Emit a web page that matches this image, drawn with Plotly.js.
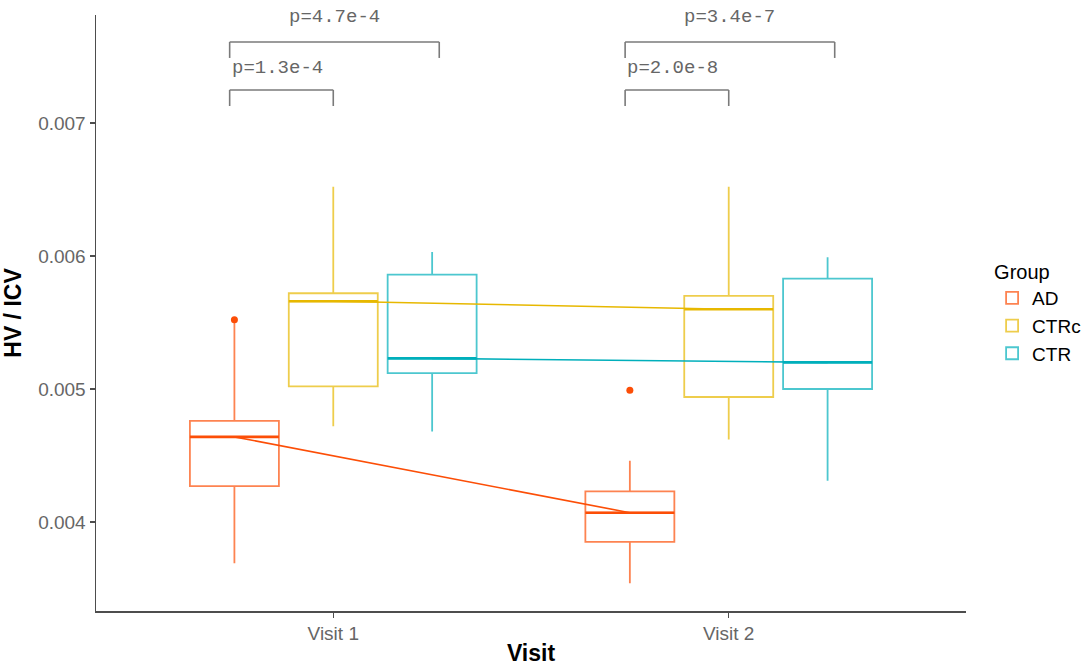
<!DOCTYPE html>
<html>
<head>
<meta charset="utf-8">
<script src="https://cdn.plot.ly/plotly-3.0.1.min.js"></script>
<style>html,body{margin:0;padding:0;background:#fff;}#chart{width:1090px;height:666px;}</style>
</head>
<body>
<div id="chart"></div>
<script>
// ---- data ----
const visits = ["Visit 1", "Visit 2"];
const groups = ["AD", "CTRc", "CTR"];
const colors = ["#FC4E07", "#E7B800", "#00AFBB"];

// per group: values at [Visit 1, Visit 2]
const lowerWhisker = {AD: [0.00369, 0.00354], CTRc: [0.00472, 0.00462], CTR: [0.00468, 0.00431]};
const q1Vals       = {AD: [0.00427, 0.00385], CTRc: [0.00502, 0.00494], CTR: [0.00512, 0.00500]};
const medianVals   = {AD: [0.00464, 0.00407], CTRc: [0.00566, 0.00560], CTR: [0.00523, 0.00520]};
const q3Vals       = {AD: [0.00476, 0.00423], CTRc: [0.00572, 0.00570], CTR: [0.00586, 0.00583]};
const upperWhisker = {AD: [0.00551, 0.00446], CTRc: [0.00652, 0.00652], CTR: [0.00603, 0.00599]};
// outliers: [visit index, value]
const outlierVisit = {AD: [0, 1], CTRc: [], CTR: []};
const outlierValue = {AD: [0.00552, 0.00499], CTRc: [], CTR: []};

// significance comparisons (per visit: AD vs CTRc, AD vs CTR)
const compVisit  = [0, 0, 1, 1];
const compTarget = ["CTRc", "CTR", "CTRc", "CTR"];
const compLabel  = ["p=1.3e-4", "p=4.7e-4", "p=2.0e-8", "p=3.4e-7"];
const compLevel  = [0, 1, 0, 1];

// ---- layout helpers ----
const dodge = 0.25;
const boxW = 0.225;
function xPos(vi, gi) { return (vi + 1) + (gi - 1) * dodge; }
function rgba(hex, a) {
  const r = parseInt(hex.slice(1,3),16), g = parseInt(hex.slice(3,5),16), b = parseInt(hex.slice(5,7),16);
  return `rgba(${r},${g},${b},${a})`;
}

const traces = [];
// connecting median lines
groups.forEach((g, gi) => {
  traces.push({
    type: "scatter", mode: "lines",
    x: visits.map((v, vi) => xPos(vi, gi)),
    y: medianVals[g],
    line: {color: colors[gi], width: 1.6},
    showlegend: false, hoverinfo: "skip"
  });
});
// boxes
groups.forEach((g, gi) => {
  traces.push({
    type: "box", name: g,
    x: visits.map((v, vi) => xPos(vi, gi)),
    q1: q1Vals[g], median: medianVals[g], q3: q3Vals[g],
    lowerfence: lowerWhisker[g], upperfence: upperWhisker[g],
    width: boxW, whiskerwidth: 0,
    line: {color: rgba(colors[gi], 0.7), width: 1.8},
    fillcolor: "rgba(255,255,255,0)",
    boxpoints: false
  });
});
// median emphasis
groups.forEach((g, gi) => {
  visits.forEach((v, vi) => {
    const xc = xPos(vi, gi);
    traces.push({
      type: "scatter", mode: "lines",
      x: [xc - boxW/2, xc + boxW/2],
      y: [medianVals[g][vi], medianVals[g][vi]],
      line: {color: colors[gi], width: 2.6},
      showlegend: false, hoverinfo: "skip"
    });
  });
});
// outliers
groups.forEach((g, gi) => {
  if (!outlierValue[g].length) return;
  traces.push({
    type: "scatter", mode: "markers",
    x: outlierVisit[g].map(vi => xPos(vi, gi)),
    y: outlierValue[g],
    marker: {color: colors[gi], size: 7},
    showlegend: false, hoverinfo: "skip"
  });
});

// brackets
const shapes = [];
const annotations = [];
const bracketY = [0.007248, 0.007609];
const bracketDrop = 0.00012;
const labelY = [0.007414, 0.007797];
const bracketLeftOff = -0.262;
const bracketRightOff = {CTRc: 0.0, CTR: 0.268};
compLabel.forEach((lab, i) => {
  const base = compVisit[i] + 1;
  const x0 = base + bracketLeftOff;
  const x1 = base + bracketRightOff[compTarget[i]];
  const yTop = bracketY[compLevel[i]];
  const ln = {color: "#7a7a7a", width: 1.6};
  shapes.push({type: "line", xref: "x", yref: "y", x0: x0, x1: x1, y0: yTop, y1: yTop, line: ln});
  shapes.push({type: "line", xref: "x", yref: "y", x0: x0, x1: x0, y0: yTop, y1: yTop - bracketDrop, line: ln});
  shapes.push({type: "line", xref: "x", yref: "y", x0: x1, x1: x1, y0: yTop, y1: yTop - bracketDrop, line: ln});
  annotations.push({
    xref: "x", yref: "y", x: (x0 + x1) / 2 - (compLevel[i] === 0 ? 0.01 : 0), y: labelY[compLevel[i]],
    text: lab, showarrow: false, xanchor: "center", yanchor: "middle",
    font: {family: "Liberation Mono, Courier New, monospace", size: 19, color: "#666666"}
  });
});

const layout = {
  width: 1090, height: 666,
  margin: {l: 96, r: 124, t: 15, b: 55, autoexpand: false},
  paper_bgcolor: "#ffffff", plot_bgcolor: "#ffffff",
  showlegend: true,
  boxmode: "overlay",
  font: {family: "Liberation Sans, Arial, sans-serif"},
  xaxis: {
    range: [0.4, 2.6], tickvals: visits.map((v, i) => i + 1), ticktext: visits,
    showgrid: false, zeroline: false, showline: true, linecolor: "#4d4d4d", linewidth: 1.5,
    ticks: "outside", ticklen: 5, tickcolor: "#4d4d4d", tickwidth: 1.2,
    tickfont: {size: 19, color: "#666666"},
    title: {text: "<b>Visit</b>", font: {size: 23, color: "#000000"}, standoff: 6}
  },
  yaxis: {
    range: [0.003331, 0.007812],
    tickvals: [0.004, 0.005, 0.006, 0.007], tickformat: ".3f",
    showgrid: false, zeroline: false, showline: true, linecolor: "#4d4d4d", linewidth: 1.5,
    ticks: "outside", ticklen: 5, tickcolor: "#4d4d4d", tickwidth: 1.2,
    tickfont: {size: 19, color: "#666666"},
    title: {text: "<b>HV / ICV</b>", font: {size: 23, color: "#000000"}, standoff: 12}
  },
  legend: {
    x: 1.03, xanchor: "left", y: 0.5, yanchor: "middle",
    title: {text: "Group", font: {size: 20, color: "#000000"}},
    font: {size: 19, color: "#000000"},
    tracegroupgap: 6, itemwidth: 30
  },
  shapes: shapes,
  annotations: annotations
};

Plotly.newPlot("chart", traces, layout, {displayModeBar: false, staticPlot: true});
</script>
</body>
</html>
